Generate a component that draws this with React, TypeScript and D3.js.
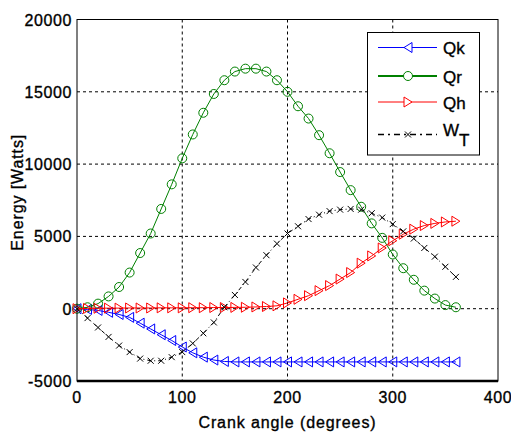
import React from 'react';
import * as d3 from 'd3';

// crank angle samples (degrees)
const angle = [0, 10, 20, 30, 40, 50, 60, 70, 80, 90, 100, 110, 120, 130, 140, 150, 160, 170, 180,
  190, 200, 210, 220, 230, 240, 250, 260, 270, 280, 290, 300, 310, 320, 330, 340, 350, 360];

const qk = [0, -50, -120, -250, -400, -600, -1000, -1400, -1800, -2200, -2650, -3050, -3350, -3550, -3650,
  -3680, -3680, -3680, -3680, -3680, -3680, -3680, -3680, -3680, -3680, -3680, -3680, -3680, -3680, -3680,
  -3680, -3680, -3680, -3680, -3680, -3680, -3680];

const qr = [0, 100, 350, 850, 1500, 2500, 3850, 5200, 6900, 8600, 10400, 12050, 13550, 14850, 15800, 16400,
  16600, 16600, 16400, 15800, 15000, 14000, 13150, 12000, 10750, 9450, 8200, 7050, 5900, 4900, 3750, 2800,
  2000, 1250, 700, 250, 100];

const qh = [0, 20, 30, 40, 40, 50, 50, 50, 60, 60, 60, 70, 70, 80, 80, 90, 100, 120, 150,
  200, 400, 650, 900, 1250, 1600, 2050, 2500, 3150, 3650, 4200, 4700, 5150, 5500, 5750, 5900, 6000, 6050];

const wt = [0, -650, -1300, -1950, -2550, -3000, -3450, -3600, -3600, -3350, -3000, -2400, -1700, -950, 100,
  950, 1850, 2850, 3700, 4500, 5200, 5700, 6200, 6500, 6750, 6850, 6900, 6850, 6600, 6300, 5850, 5350,
  4850, 4200, 3600, 2900, 2200];

const xTicks = [0, 100, 200, 300, 400];
const yTicks = [-5000, 0, 5000, 10000, 15000, 20000];

const W = 511, H = 434;
const font = 'Liberation Sans, Arial, sans-serif';

const x = d3.scaleLinear().domain([0, 400]).range([77, 498]);
const y = d3.scaleLinear().domain([-5000, 20000]).range([381, 19.5]);

type Marker = 'left' | 'right' | 'circle' | 'cross';

function markerPath(m: Marker, cx: number, cy: number) {
  if (m === 'left') return `M${cx + 4},${cy - 5}L${cx - 4},${cy}L${cx + 4},${cy + 5}Z`;
  if (m === 'right') return `M${cx - 4},${cy - 5}L${cx + 4},${cy}L${cx - 4},${cy + 5}Z`;
  if (m === 'circle') return `M${cx + 4.5},${cy}A4.5,4.5 0 1,1 ${cx - 4.5},${cy}A4.5,4.5 0 1,1 ${cx + 4.5},${cy}`;
  return `M${cx - 3},${cy - 3}L${cx + 3},${cy + 3}M${cx - 3},${cy + 3}L${cx + 3},${cy - 3}`;
}

const series = [
  { name: 'Qk', values: qk, color: '#0000ff', marker: 'left' as Marker, dash: '' },
  { name: 'Qr', values: qr, color: '#008000', marker: 'circle' as Marker, dash: '' },
  { name: 'Qh', values: qh, color: '#ff0000', marker: 'right' as Marker, dash: '' },
  { name: 'WT', values: wt, color: '#000000', marker: 'cross' as Marker, dash: '4,3,1,3' },
];

export default function App() {
  const line = d3.line<number>().x((_, i) => x(angle[i])).y(d => y(d));
  const [x0, x1] = x.range();
  const [y0, y1] = y.range();
  const heavy = { stroke: '#000', strokeWidth: 0.35 };

  return (
    <svg width={W} height={H} style={{ position: 'absolute', left: 0, top: 0 }} fontFamily={font}>
      <rect x={0} y={0} width={W} height={H} fill="#fff" />
      {/* grid */}
      {xTicks.slice(1, -1).map(t => (
        <line key={'gx' + t} x1={x(t)} x2={x(t)} y1={y1} y2={y0} stroke="#000" strokeWidth={1} strokeDasharray="3,3" />
      ))}
      {yTicks.slice(1, -1).map(t => (
        <line key={'gy' + t} x1={x0} x2={x1} y1={y(t)} y2={y(t)} stroke="#000" strokeWidth={1} strokeDasharray="3,3" />
      ))}
      {/* series */}
      {series.map(s => (
        <g key={s.name}>
          <path d={line(s.values) || ''} fill="none" stroke={s.color} strokeWidth={1} strokeDasharray={s.dash || undefined} />
          {s.values.map((v, i) => (
            <path key={i} d={markerPath(s.marker, x(angle[i]), y(v))} fill="none" stroke={s.color} strokeWidth={1} />
          ))}
        </g>
      ))}
      {/* frame */}
      <rect x={x0} y={y1} width={x1 - x0} height={y0 - y1} fill="none" stroke="#000" strokeWidth={1} />
      <line x1={x0} x2={x1} y1={y0} y2={y0} stroke="#000" strokeWidth={2.5} />
      {/* tick labels */}
      {xTicks.map(t => (
        <text key={'tx' + t} x={x(t)} y={403} textAnchor="middle" fontSize={16} letterSpacing={0.6} fill="#000" {...heavy}>{t}</text>
      ))}
      {yTicks.map(t => (
        <text key={'ty' + t} x={72} y={y(t) + 6} textAnchor="end" fontSize={16} letterSpacing={0.6} fill="#000" {...heavy}>{t}</text>
      ))}
      <text x={(x0 + x1) / 2} y={428} textAnchor="middle" fontSize={16} letterSpacing={0.9} fill="#000" {...heavy}>Crank angle (degrees)</text>
      <text transform={`translate(23,${(y0 + y1) / 2 - 8}) rotate(-90)`} textAnchor="middle" fontSize={16} letterSpacing={0.9} fill="#000" {...heavy}>Energy [Watts]</text>
      {/* legend */}
      <g>
        <rect x={367.5} y={32.5} width={112} height={122.5} fill="#fff" stroke="#000" strokeWidth={1} />
        {series.map((s, i) => {
          const ly = [47.5, 76, 102, 134.5][i];
          return (
            <g key={'lg' + s.name}>
              <line x1={378} x2={437} y1={ly} y2={ly} stroke={s.color} strokeWidth={s.name === 'Qr' ? 2 : (s.name === 'WT' ? 1.5 : 1)} strokeDasharray={s.name === 'WT' ? '6,4,2,4' : undefined} />
              <path d={markerPath(s.marker, 408, ly)} fill="#fff" stroke={s.color} strokeWidth={1} />
              {s.name === 'WT' ? (
                <text x={443} y={ly + 1} fontSize={17} fill="#000" {...heavy}>W<tspan dy={10} fontSize={17}>T</tspan></text>
              ) : (
                <text x={443} y={ly + 6.5} fontSize={17} fill="#000" {...heavy}>{s.name}</text>
              )}
            </g>
          );
        })}
      </g>
    </svg>
  );
}
